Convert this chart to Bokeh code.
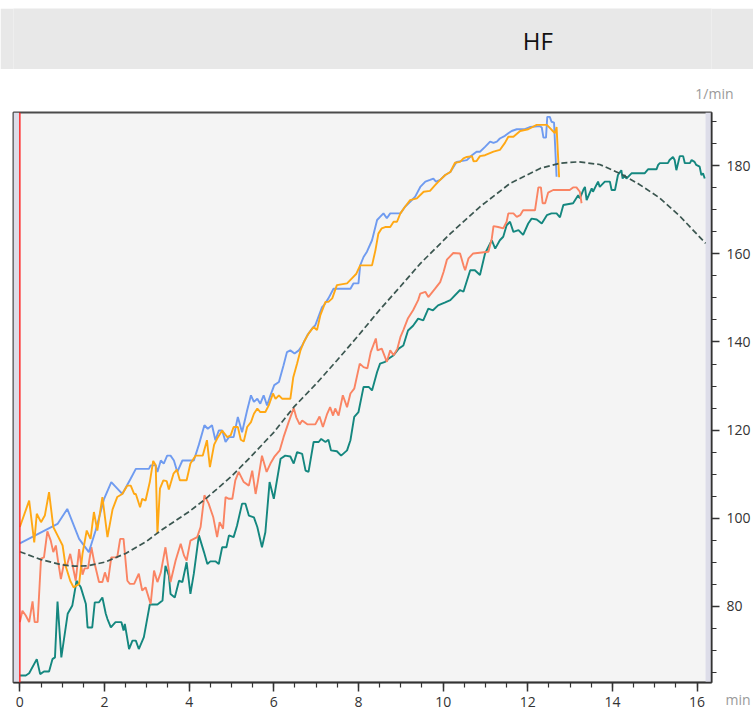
from bokeh.plotting import figure
from bokeh.models import Range1d, Span, BoxAnnotation, Label, SingleIntervalTicker, Title, Spacer
from bokeh.layouts import column
from bokeh.embed import file_html
from bokeh.resources import INLINE

title_text = "HF"
x_unit = "min"
y_unit = "1/min"
x_ticks_interval = 2
y_ticks_interval = 20

# (time in min, heart rate in 1/min)
blue_points = [(0.0, 94.3), (0.89, 98.7), (1.12, 102.1), (1.40, 95.3), (1.63, 92.3), (1.79, 97.2), (1.99, 104.4),
    (2.16, 108.2), (2.42, 105.5), (2.62, 109), (2.74, 111.2), (3.05, 111.2), (3.09, 112), (3.21, 112), (3.25, 110.5),
    (3.33, 113.1), (3.40, 112.4), (3.48, 114.2), (3.56, 114.2), (3.64, 113.1), (3.72, 110.5), (3.84, 113.1),
    (4.11, 113.1), (4.23, 116.7), (4.36, 121.1), (4.44, 120.3), (4.54, 121.1), (4.62, 117.7), (4.70, 119.9),
    (4.78, 119.9), (4.86, 117.3), (4.94, 118.4), (5.05, 118.4), (5.15, 123), (5.25, 119.5), (5.37, 124.5),
    (5.46, 127.9), (5.53, 126.4), (5.61, 127.1), (5.68, 126), (5.76, 127.9), (5.84, 125.6), (5.92, 127.9),
    (6.01, 130.2), (6.12, 130.9), (6.23, 134.7), (6.31, 137.7), (6.39, 138.1), (6.49, 137.4), (6.59, 138.1),
    (6.67, 139.2), (6.79, 141.5), (6.90, 143), (6.98, 143.8), (7.14, 147.9), (7.18, 148.3), (7.29, 149.9),
    (7.41, 152.1), (7.81, 152.1), (7.88, 153.3), (8.00, 153.3), (8.04, 157.4), (8.12, 159.3), (8.20, 160.5),
    (8.32, 163.1), (8.44, 167.7), (8.51, 168.4), (8.59, 169.2), (8.67, 168.1), (8.75, 169.2), (8.99, 169.2),
    (9.10, 170.7), (9.22, 171.8), (9.34, 173), (9.46, 175.2), (9.58, 176.4), (9.69, 176.8), (9.77, 177.1),
    (9.83, 176.4), (9.93, 176.8), (10.05, 177.9), (10.17, 178.6), (10.32, 180.9), (10.56, 181.3), (10.68, 182.4),
    (10.79, 183.2), (10.87, 183.2), (10.99, 184.3), (11.11, 185.5), (11.19, 185.2), (11.27, 185.5), (11.34, 186.2),
    (11.46, 186.8), (11.54, 187.4), (11.62, 187.9), (11.74, 188.3), (11.93, 188.3), (12.05, 188.8), (12.29, 189),
    (12.33, 188.7), (12.37, 186.4), (12.43, 186.4), (12.46, 191.1), (12.52, 191.1), (12.56, 190), (12.62, 189.8),
    (12.68, 177.5)]

orange_points = [(0.0, 98), (0.22, 104), (0.34, 94.5), (0.40, 101), (0.50, 99.1), (0.59, 100.6), (0.69, 105.9),
    (0.79, 98), (0.89, 96.1), (1.01, 93.8), (1.08, 89.2), (1.19, 85.8), (1.27, 84.3), (1.40, 85.1), (1.48, 91.9),
    (1.58, 97.2), (1.67, 95.3), (1.75, 101.4), (1.83, 97.2), (1.95, 104.8), (2.07, 95.7), (2.19, 102),
    (2.30, 104.8), (2.42, 105.5), (2.54, 107.4), (2.62, 107.4), (2.70, 105.5), (2.74, 105.5), (2.84, 102.5),
    (2.89, 104.4), (2.97, 104), (3.07, 108.2), (3.15, 113), (3.21, 112), (3.25, 96.5), (3.31, 106.7),
    (3.39, 108.6), (3.47, 108.4), (3.52, 106.5), (3.63, 110.1), (3.71, 111), (3.78, 108.6), (3.94, 108.6),
    (4.03, 112.4), (4.15, 114.2), (4.32, 114.2), (4.42, 117.7), (4.49, 111.6), (4.59, 116.7), (4.68, 118.4),
    (4.78, 119.9), (4.90, 118.4), (4.98, 118.8), (5.05, 120.7), (5.15, 120.7), (5.22, 117.8), (5.29, 117.4),
    (5.37, 120.7), (5.46, 121.8), (5.53, 123.7), (5.61, 124.9), (5.68, 124.1), (5.80, 124.1), (5.88, 125.6),
    (5.98, 128.3), (6.04, 127.1), (6.12, 127.9), (6.20, 127.1), (6.39, 127.1), (6.46, 132), (6.55, 135.1),
    (6.63, 138.1), (6.71, 140), (6.82, 141.9), (6.94, 143.4), (7.02, 142.7), (7.10, 146.1), (7.22, 149.1),
    (7.29, 149.1), (7.38, 149.9), (7.49, 152.9), (7.73, 153.3), (7.85, 154.5), (7.95, 155.5), (8.04, 157.4),
    (8.32, 157.4), (8.40, 160.8), (8.47, 164.6), (8.55, 165.8), (8.63, 166.1), (8.75, 166.1), (8.83, 167.3),
    (8.91, 167.3), (8.99, 169.2), (9.10, 170.7), (9.22, 172.2), (9.38, 172.6), (9.54, 174.1), (9.69, 174.3),
    (9.81, 175.6), (9.93, 176.8), (10.05, 177.9), (10.17, 178.6), (10.28, 180.7), (10.40, 180.9), (10.48, 181.7),
    (10.56, 182), (10.68, 182.2), (10.72, 181), (10.79, 181.1), (10.87, 182.2), (10.99, 182.4), (11.19, 183.2),
    (11.34, 183.6), (11.46, 185.2), (11.54, 186.6), (11.66, 186.6), (11.82, 187.9), (12.01, 188.3), (12.21, 189.3),
    (12.45, 189.3), (12.52, 188.6), (12.59, 187.9), (12.64, 187.4), (12.68, 188.8), (12.74, 177.4)]

salmon_points = [(0.0, 76.4), (0.06, 79), (0.14, 77.9), (0.22, 76.4), (0.30, 81.1), (0.35, 76.4), (0.42, 76.4),
    (0.50, 90.8), (0.57, 91.1), (0.65, 97), (0.73, 94.9), (0.79, 92.3), (0.85, 93.8), (0.90, 90.4), (0.97, 86.2),
    (1.04, 89.6), (1.11, 89.2), (1.19, 91.9), (1.24, 89.6), (1.32, 85.8), (1.40, 93), (1.48, 87.2), (1.53, 88.6),
    (1.61, 88.6), (1.69, 93.4), (1.75, 90.4), (1.87, 85.5), (1.95, 85.5), (2.01, 87.7), (2.08, 85.5), (2.16, 91.1),
    (2.30, 91.1), (2.37, 95.3), (2.45, 95.3), (2.54, 85.8), (2.60, 85.1), (2.70, 85.1), (2.81, 87.4), (2.89, 83.6),
    (2.97, 84.3), (3.09, 80.5), (3.17, 88.1), (3.25, 85.5), (3.33, 87.7), (3.44, 93.4), (3.56, 85.5), (3.68, 90.4),
    (3.80, 94.2), (3.88, 91.5), (3.94, 90.4), (4.03, 94.9), (4.19, 95.7), (4.27, 98), (4.36, 105.2), (4.46, 103.3),
    (4.57, 100.2), (4.66, 95.7), (4.72, 99.1), (4.80, 97.6), (4.86, 104.8), (4.94, 104.4), (5.02, 104.4),
    (5.09, 108.6), (5.17, 110.5), (5.29, 108.2), (5.41, 107.4), (5.49, 110.8), (5.57, 105.5), (5.62, 108.2),
    (5.72, 114.2), (5.83, 110.5), (5.92, 112.4), (6.01, 113.9), (6.14, 115.4), (6.23, 118.4), (6.35, 121.8),
    (6.47, 125), (6.53, 122.9), (6.61, 121.3), (6.67, 122.2), (6.79, 121.3), (6.98, 121.3), (7.08, 123.1),
    (7.16, 120.7), (7.26, 123.7), (7.33, 125.2), (7.40, 123.3), (7.45, 124.9), (7.53, 123.3), (7.63, 127.9),
    (7.73, 125.2), (7.81, 128.3), (7.90, 129.4), (8.03, 135.1), (8.12, 134.3), (8.21, 134), (8.29, 137.7),
    (8.41, 140.8), (8.45, 138.1), (8.55, 138.5), (8.67, 135.5), (8.75, 138.1), (8.83, 137), (8.92, 138.5),
    (8.99, 141.1), (9.06, 142.7), (9.17, 145.4), (9.29, 147.2), (9.41, 149.5), (9.46, 151), (9.58, 151.4),
    (9.65, 150.2), (9.81, 152.1), (9.93, 153.6), (10.01, 155.9), (10.09, 158.7), (10.24, 160.2), (10.40, 160.1),
    (10.48, 157.4), (10.52, 156.3), (10.60, 159), (10.71, 160.1), (11.07, 160.5), (11.15, 163.5), (11.19, 166.3),
    (11.30, 166.1), (11.42, 165.8), (11.50, 167.3), (11.54, 169.2), (11.66, 169.2), (11.74, 168.4), (11.82, 168.8),
    (11.89, 169.9), (12.17, 169.9), (12.25, 175.1), (12.31, 175.1), (12.35, 171.5), (12.41, 171.5), (12.48, 173.9),
    (12.60, 174.5), (12.99, 174.5), (13.07, 175.1), (13.15, 175.1), (13.23, 174.1), (13.27, 171.5)]

teal_points = [(0.0, 64.3), (0.14, 64.3), (0.22, 64.8), (0.40, 68), (0.48, 64.6), (0.57, 65.2), (0.69, 65.2),
    (0.77, 68), (0.83, 68.4), (0.89, 81.1), (0.98, 68.4), (1.13, 78.3), (1.24, 80.2), (1.34, 85.8), (1.44, 84.3),
    (1.56, 80.5), (1.60, 75.2), (1.71, 75.2), (1.77, 80.9), (1.87, 80.9), (1.95, 82), (2.03, 78.3), (2.07, 77.1),
    (2.15, 75.2), (2.26, 76.4), (2.40, 76.4), (2.45, 74.5), (2.48, 76), (2.58, 70.3), (2.66, 72.2), (2.74, 72.2),
    (2.81, 70.3), (2.93, 73), (3.07, 80.4), (3.25, 80.4), (3.37, 81.3), (3.44, 89.2), (3.52, 87), (3.56, 82.8),
    (3.66, 82), (3.76, 85.8), (3.84, 85.5), (3.94, 90), (4.03, 82.8), (4.11, 87.4), (4.23, 96.1), (4.35, 92.3),
    (4.43, 89.6), (4.50, 90.2), (4.62, 90.2), (4.70, 89.6), (4.78, 93.4), (4.88, 93.4), (4.94, 96.1), (5.05, 95.7),
    (5.13, 98.3), (5.25, 103.3), (5.33, 103.3), (5.41, 100.6), (5.53, 100.2), (5.61, 98), (5.72, 93.4),
    (5.80, 96.8), (5.90, 108.2), (6.00, 104.4), (6.16, 113.5), (6.27, 114.2), (6.39, 114), (6.47, 112.4),
    (6.55, 115), (6.67, 114.6), (6.75, 110.8), (6.82, 110.5), (6.94, 117.3), (7.06, 117.3), (7.12, 118),
    (7.22, 117.3), (7.29, 117.8), (7.35, 115.4), (7.49, 115.2), (7.59, 114.2), (7.73, 115.4), (7.81, 117.7),
    (7.90, 123), (8.00, 124.1), (8.12, 129.8), (8.24, 129.8), (8.32, 129), (8.44, 133.2), (8.51, 135.1),
    (8.63, 135.5), (8.71, 136.2), (8.83, 137), (8.95, 138.5), (9.06, 139.2), (9.17, 142.6), (9.29, 143.7),
    (9.41, 145.3), (9.53, 144.9), (9.65, 147.6), (9.76, 147.2), (9.88, 148.3), (10.05, 149), (10.17, 149.5),
    (10.40, 151.8), (10.48, 151.4), (10.64, 156.3), (10.75, 156.3), (10.87, 155.2), (10.99, 160.1), (11.15, 163.1),
    (11.23, 161.2), (11.34, 163.1), (11.42, 163.9), (11.50, 166.5), (11.58, 167.3), (11.66, 165), (11.78, 165.4),
    (11.89, 164.3), (12.01, 166.9), (12.09, 168), (12.21, 167.8), (12.33, 166.9), (12.45, 168.8), (12.56, 169.2),
    (12.68, 169.2), (12.76, 168.3), (12.84, 171.1), (13.07, 171.5), (13.19, 173.3), (13.23, 172.6), (13.31, 174.5),
    (13.35, 175.2), (13.39, 172.2), (13.51, 174.9), (13.54, 174.1), (13.66, 176.4), (13.70, 175.2), (13.82, 176.4),
    (13.94, 176.4), (13.98, 174.5), (14.06, 174.5), (14.13, 177.9), (14.21, 179), (14.24, 177.1), (14.29, 177.9),
    (14.33, 177.1), (14.41, 177.9), (14.45, 178.3), (14.76, 178.3), (14.84, 179.2), (15.04, 179.2), (15.08, 180.2),
    (15.12, 180.6), (15.31, 180.6), (15.35, 181.3), (15.43, 182), (15.47, 181.3), (15.51, 179), (15.59, 182.2),
    (15.67, 182.2), (15.71, 180.6), (15.83, 180.6), (15.87, 181.3), (15.94, 180.9), (15.98, 180.2), (16.06, 179.8),
    (16.10, 177.9), (16.14, 178.3), (16.18, 177.1)]

reference_points = [(0.0, 92.4), (0.5, 90.6), (1.0, 89.4), (1.3, 89.1), (1.6, 89.2), (2.0, 90.0), (2.5, 92.0),
    (3.0, 94.8), (3.33, 97.2), (4.0, 101.5), (4.39, 104.4), (5.0, 109.5), (5.45, 113.9), (6.0, 119.5),
    (6.47, 125.2), (7.0, 130.5), (7.49, 135.8), (8.0, 141.5), (8.51, 147.4), (8.99, 152.6), (9.46, 157.8),
    (10.17, 164.6), (10.87, 170.7), (11.58, 176.0), (12.29, 179.4), (12.76, 180.6), (13.2, 180.9), (13.7, 180.3),
    (14.17, 178.3), (14.6, 176.0), (15.1, 172.8), (15.6, 168.5), (16.2, 162.4)]

x_start, x_end = -0.15, 16.34
y_start, y_end = 62.7, 192.1
data_start, data_end = 0.0, 16.2

FONT = "Open Sans"
PAGE_W = 753
BORDER_L, BORDER_R = 13, 41

# ---- banner -------------------------------------------------------------
top_gap = Spacer(width=PAGE_W, height=8)
banner = figure(width=PAGE_W, height=61, output_backend="svg", toolbar_location=None,
                x_range=Range1d(BORDER_L, PAGE_W - BORDER_R), y_range=Range1d(0, 61),
                min_border_left=BORDER_L, min_border_right=BORDER_R, min_border_top=0, min_border_bottom=0,
                background_fill_color="#e8e8e8", border_fill_color="#e8e8e8")
banner.axis.visible = False
banner.grid.visible = False
banner.outline_line_color = None
banner.add_layout(Label(x=538, y=29, text=title_text, text_font=FONT, text_font_size="24px",
                        text_color="#111111", text_align="center", text_baseline="middle"))

# ---- main chart ---------------------------------------------------------
p = figure(width=PAGE_W, height=648, output_backend="svg", toolbar_location=None,
           x_range=Range1d(x_start, x_end), y_range=Range1d(y_start, y_end),
           y_axis_location="right",
           min_border_left=BORDER_L, min_border_right=BORDER_R, min_border_top=43, min_border_bottom=35,
           background_fill_color="#f4f4f4", border_fill_color="white")
p.grid.visible = False
p.outline_line_color = "#4a4a4a"
p.outline_line_width = 2

p.add_layout(BoxAnnotation(right=data_start - 0.02, fill_color="#dddde9", fill_alpha=1, line_color=None,
                           level="underlay"))
p.add_layout(BoxAnnotation(left=data_end, fill_color="#dddde9", fill_alpha=1, line_color=None,
                           level="underlay"))

def unzip(points):
    return [a for a, _ in points], [b for _, b in points]

for pts, col in [(teal_points, "#14877f"), (salmon_points, "#fa8463"),
                 (blue_points, "#6f9bf0"), (orange_points, "#ffa814")]:
    xs, ys = unzip(pts)
    p.line(xs, ys, line_color=col, line_width=1.9)

rx, ry = unzip(reference_points)
p.line(rx, ry, line_color="#3b5650", line_width=1.7, line_dash="6 3")

p.add_layout(Span(location=data_start, dimension="height", line_color="#ff2a2a", line_width=1.5))

p.xaxis.ticker = SingleIntervalTicker(interval=x_ticks_interval, num_minor_ticks=4)
p.yaxis.ticker = SingleIntervalTicker(interval=y_ticks_interval, num_minor_ticks=4)
for ax in (p.xaxis, p.yaxis):
    ax.axis_line_color = "#333333"
    ax.axis_line_width = 1.5
    ax.major_tick_line_color = "#333333"
    ax.minor_tick_line_color = "#333333"
    ax.major_tick_line_width = 1.5
    ax.minor_tick_line_width = 1.2
    ax.major_tick_in = 0
    ax.minor_tick_in = 0
    ax.major_label_text_font = FONT
    ax.major_label_text_font_size = "14px"
    ax.major_label_text_color = "#333333"
p.xaxis.major_tick_out = 9
p.xaxis.minor_tick_out = 5
p.xaxis.major_label_standoff = 5
p.yaxis.major_tick_out = 8
p.yaxis.minor_tick_out = 5
p.yaxis.major_label_standoff = 7

unit_style = dict(text_font=FONT, text_font_size="14px", text_font_style="normal", text_color="#9a9a9a")
p.add_layout(Title(text=y_unit, align="right", offset=-22, vertical_align="top", standoff=16, **unit_style),
             "above")

# transparent strip laid over the bottom of the chart, carrying the x unit
unit_strip = figure(width=PAGE_W, height=40, output_backend="svg", toolbar_location=None,
                    x_range=Range1d(x_start, x_end), y_range=Range1d(0, 1),
                    min_border_left=BORDER_L, min_border_right=BORDER_R, min_border_top=34, min_border_bottom=0,
                    background_fill_alpha=0, border_fill_alpha=0, margin=(-40, 0, 0, 0))
unit_strip.axis.visible = False
unit_strip.grid.visible = False
unit_strip.outline_line_color = None
unit_strip.add_layout(Title(text=x_unit, align="right", offset=-39, vertical_align="top", standoff=2,
                            **unit_style), "above")

layout = column(top_gap, banner, p, unit_strip, spacing=0)
open("out.html", "w").write(file_html(layout, INLINE))
